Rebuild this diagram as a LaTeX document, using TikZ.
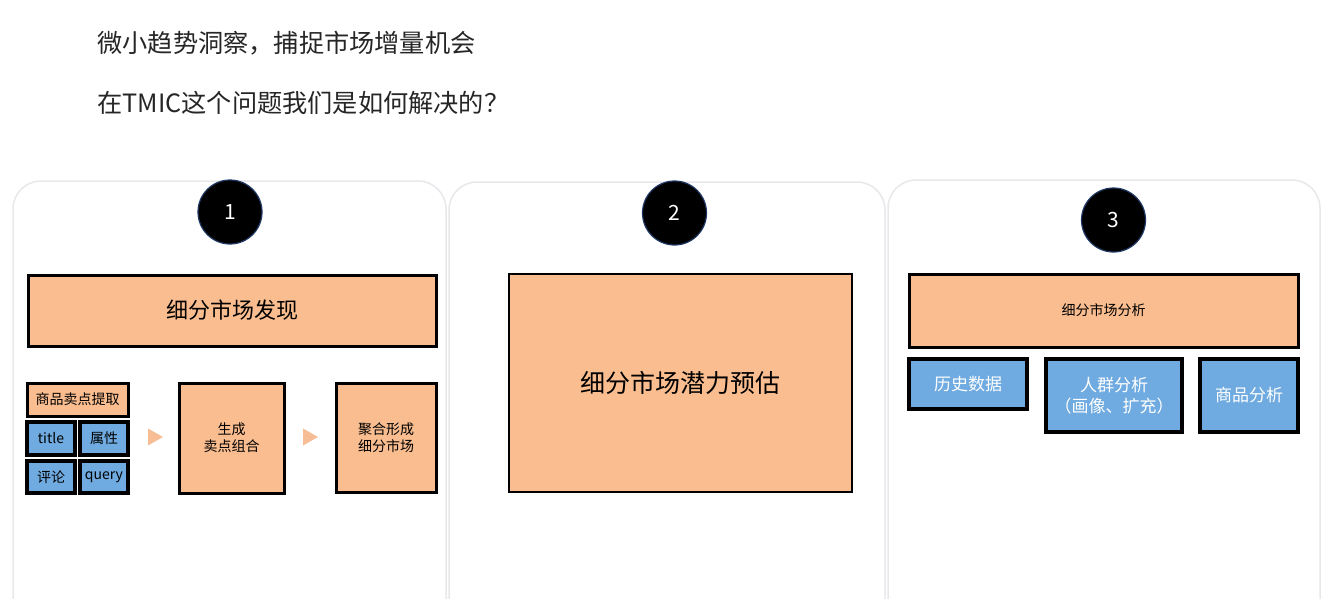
\documentclass[tikz,border=0pt]{standalone}
\usepackage{fontspec}
\setmainfont{Noto Sans CJK SC}
\usetikzlibrary{calc}
\definecolor{cardedge}{RGB}{232,232,236}
\definecolor{boxorange}{RGB}{249,189,143}
\definecolor{boxblue}{RGB}{111,171,224}
\definecolor{tricol}{RGB}{247,190,150}
\definecolor{ringblue}{RGB}{31,56,100}
\tikzset{
	orangebox/.style={draw=black, fill=boxorange, line width=3pt, inner sep=0pt, align=center},
	bluebox/.style={draw=black, fill=boxblue, line width=3.2pt, inner sep=0pt, align=center},
	numdot/.style={circle, fill=black, draw=ringblue, line width=1.2pt, minimum size=64pt, inner sep=0pt, text=white, font=\fontsize{21}{25}\selectfont},
}
\begin{document}
\begin{tikzpicture}[x=1pt, y=-1pt]
		%%%%% START %%%%%
		\useasboundingbox (0, 0) rectangle (1343, 599);
		\fill[white] (0, 0) rectangle (1343, 599);
		
		\node[anchor=west, text=black!85, font=\fontsize{25.2}{29}\selectfont] (headline) at (94, 43) {微小趋势洞察，捕捉市场增量机会};
		\node[anchor=west, text=black!85, font=\fontsize{25.2}{29}\selectfont] (question) at (94, 103) {在TMIC这个问题我们是如何解决的？};
		
		% cards
		\draw[draw=cardedge, line width=1.5pt, fill=white, rounded corners=28pt] (13, 181) rectangle (446, 640);
		\draw[draw=cardedge, line width=1.5pt, fill=white, rounded corners=28pt] (449, 182) rectangle (885, 640);
		\draw[draw=cardedge, line width=1.5pt, fill=white, rounded corners=28pt] (888, 180) rectangle (1320, 640);
		
		\node[numdot] (one) at (230, 212) {1};
		\node[numdot] (two) at (674.5, 213) {2};
		\node[numdot] (three) at (1113.5, 220) {3};
		
		% card 1
		\node[orangebox, minimum width=408pt, minimum height=71pt, font=\fontsize{22}{26}\selectfont] (discover) at (232, 310.5) {细分市场发现};
		\node[orangebox, minimum width=101pt, minimum height=33pt, font=\fontsize{14}{17}\selectfont] (extract) at (77.5, 399.5) {商品卖点提取};
		\node[bluebox, minimum width=48pt, minimum height=33pt, font=\fontsize{14}{17}\selectfont] (title) at (51, 438.5) {title};
		\node[bluebox, minimum width=48pt, minimum height=33pt, font=\fontsize{14}{17}\selectfont] (attr) at (104, 438.5) {属性};
		\node[bluebox, minimum width=48pt, minimum height=32pt, font=\fontsize{14}{17}\selectfont] (review) at (51, 477) {评论};
		\node[bluebox, minimum width=48pt, minimum height=32pt, font=\fontsize{14}{17}\selectfont] (query) at (104, 477) {query};
		\node[orangebox, minimum width=105pt, minimum height=110pt, font=\fontsize{14}{17}\selectfont] (combine) at (231.5, 438) {生成\\卖点组合};
		\node[orangebox, minimum width=100pt, minimum height=109pt, font=\fontsize{14}{17}\selectfont] (merge) at (386, 437.5) {聚合形成\\细分市场};
		
		\coordinate (tri1) at (155, 437);
		\coordinate (tri2) at (310, 437);
		\fill[tricol] ($(tri1)+(-7, -8.5)$) -- ($(tri1)+(8, 0)$) -- ($(tri1)+(-7, 8.5)$) -- cycle;
		\fill[tricol] ($(tri2)+(-7, -8.5)$) -- ($(tri2)+(8, 0)$) -- ($(tri2)+(-7, 8.5)$) -- cycle;
		
		% card 2
		\node[orangebox, line width=2.6pt, minimum width=343pt, minimum height=218pt, font=\fontsize{25}{30}\selectfont] (potential) at (680.5, 383) {细分市场潜力预估};
		
		% card 3
		\node[orangebox, minimum width=389pt, minimum height=73pt, font=\fontsize{14}{17}\selectfont] (analysis) at (1103.5, 310.5) {细分市场分析};
		\node[bluebox, minimum width=118pt, minimum height=50pt, text=white, font=\fontsize{17}{21}\selectfont] (history) at (968, 384) {历史数据};
		\node[bluebox, minimum width=136pt, minimum height=73pt, text=white, font=\fontsize{17}{21}\selectfont] (crowd) at (1114, 395.5) {人群分析\\（画像、扩充）};
		\node[bluebox, minimum width=98pt, minimum height=73pt, text=white, font=\fontsize{17}{21}\selectfont] (goods) at (1249, 395.5) {商品分析};
		
		%%%%% END %%%%%
	\end{tikzpicture}
\end{document}
